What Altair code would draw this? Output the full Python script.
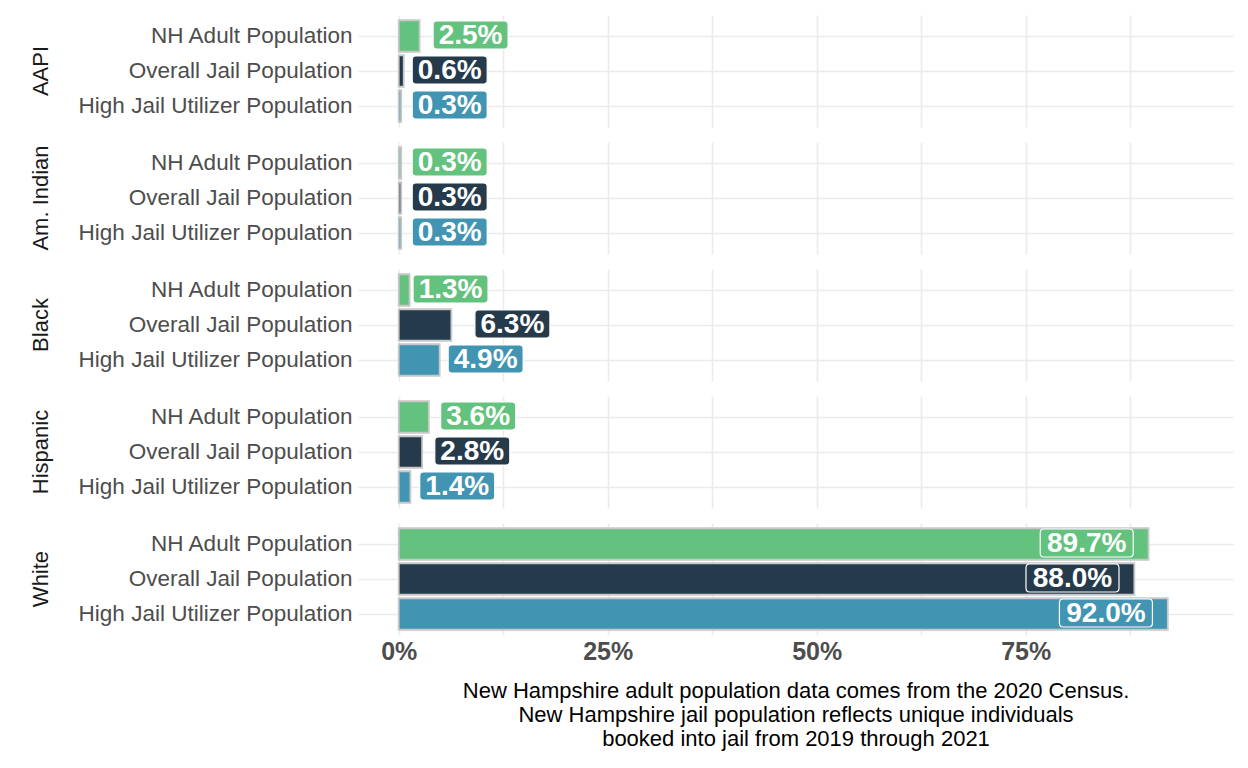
import altair as alt
import pandas as pd

races = ["AAPI", "Am. Indian", "Black", "Hispanic", "White"]
groups = ["NH Adult Population", "Overall Jail Population", "High Jail Utilizer Population"]
colors = ["#63C27E", "#253A4B", "#4195B3"]

# percentages, per race, in the order of groups
aapi = [2.5, 0.6, 0.3]
am_indian = [0.3, 0.3, 0.3]
black = [1.3, 6.3, 4.9]
hispanic = [3.6, 2.8, 1.4]
white = [89.7, 88.0, 92.0]

# label nudges (percentage points from bar end), like ggplot nudge_x / repel result
nudge_aapi = [6.1, 5.5, 5.8]
nudge_am_indian = [5.8, 5.8, 5.8]
nudge_black = [4.9, 7.3, 5.5]
nudge_hispanic = [5.9, 6.0, 5.6]
nudge_white = [-7.4, -7.4, -7.4]

caption = [
    "New Hampshire adult population data comes from the 2020 Census.",
    "New Hampshire jail population reflects unique individuals",
    "booked into jail from 2019 through 2021",
]

rows = []
for race, vals, nud in zip(
    races,
    [aapi, am_indian, black, hispanic, white],
    [nudge_aapi, nudge_am_indian, nudge_black, nudge_hispanic, nudge_white],
):
    for g, v, n in zip(groups, vals, nud):
        txt = f"{v:.1f}%"
        rows.append({"race": race, "group": g, "value": v, "nudge": n,
                     "label": txt, "nchar": len(txt)})
df = pd.DataFrame(rows)


def rrect(h, r):
    return (f"M {-1 + r},{-h} L {1 - r},{-h} Q 1,{-h} 1,{-h + r} "
            f"L 1,{h - r} Q 1,{h} {1 - r},{h} L {-1 + r},{h} "
            f"Q -1,{h} -1,{h - r} L -1,{-h + r} Q -1,{-h} {-1 + r},{-h} Z")


path4 = rrect(0.373, 0.1)
path5 = rrect(0.301, 0.08)

FONT = "Liberation Sans"

xscale = alt.Scale(domain=[-4.87, 99.8], nice=False, zero=False)
yscale = alt.Scale(domain=groups, paddingInner=0.1, paddingOuter=0.15)
cscale = alt.Scale(domain=groups, range=colors)

xaxis = alt.Axis(
    values=[0, 12.5, 25, 37.5, 50, 62.5, 75, 87.5],
    labelExpr="datum.value % 25 == 0 ? datum.value + '%' : ''",
    labelFont=FONT, labelFontSize=25, labelFontWeight="bold", labelColor="#4D4D4D",
    labelPadding=4, ticks=False, domain=False,
    grid=True, gridColor="#EBEBEB", gridWidth=1.6,
    title=caption, titleFont=FONT, titleFontSize=22, titleFontWeight="normal",
    titleColor="#000000", titlePadding=16, titleLineHeight=24,
)
yaxis = alt.Axis(
    labelFont=FONT, labelFontSize=22.5, labelColor="#4D4D4D", labelPadding=6,
    ticks=False, domain=False, grid=True, gridColor="#EBEBEB", gridWidth=1.6,
    bandPosition=0.5, title=None, labelLimit=400,
)

base = alt.Chart(df)

bars = base.mark_bar(stroke="#C8C8C8", strokeWidth=1.8).encode(
    x=alt.X("value:Q", scale=xscale, axis=xaxis),
    x2=alt.X2(datum=0),
    y=alt.Y("group:N", scale=yscale, axis=yaxis, sort=groups),
    color=alt.Color("group:N", scale=cscale, legend=None),
)

boxes = base.transform_calculate(lx="datum.value + datum.nudge").mark_point(
    filled=True, opacity=1, stroke="white", strokeWidth=1.2, yOffset=-1
).encode(
    x=alt.X("lx:Q", scale=xscale),
    y=alt.Y("group:N", scale=yscale, sort=groups),
    fill=alt.Fill("group:N", scale=cscale, legend=None),
    shape=alt.Shape("nchar:O", scale=alt.Scale(domain=[4, 5], range=[path4, path5]), legend=None),
    size=alt.Size("nchar:O", scale=alt.Scale(domain=[4, 5], range=[75 * 75, 93 * 93]), legend=None),
)

texts = base.transform_calculate(lx="datum.value + datum.nudge").mark_text(
    font=FONT, fontSize=28, fontWeight="bold", color="white", baseline="middle",
    align="center", yOffset=0
).encode(
    x=alt.X("lx:Q", scale=xscale),
    y=alt.Y("group:N", scale=yscale, sort=groups),
    text="label:N",
)

layer = alt.layer(bars, boxes, texts).properties(width=875, height=112)

chart = layer.facet(
    row=alt.Row(
        "race:N", sort=races,
        header=alt.Header(
            title=None, labelAngle=-90, labelOrient="left", labelFont=FONT,
            labelFontSize=22, labelColor="#1A1A1A", labelPadding=15,
        ),
    ),
    spacing=15,
).properties(
    padding={"left": 30, "top": 15, "right": 10, "bottom": 5}
).configure_view(stroke=None).configure_axis(minExtent=10)

chart.save("out.html", embed_options={"renderer": "svg", "actions": False})
